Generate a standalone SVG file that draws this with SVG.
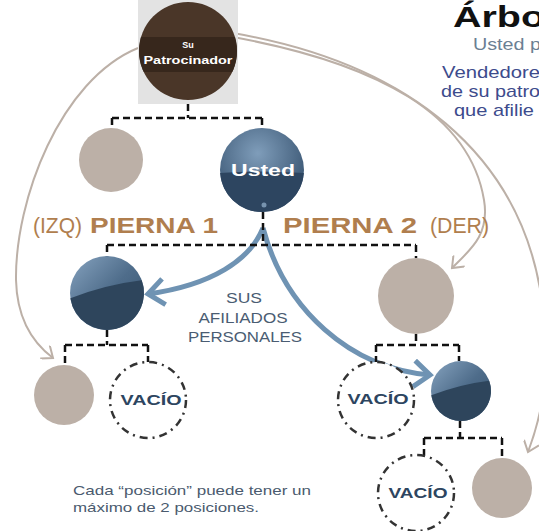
<svg xmlns="http://www.w3.org/2000/svg" width="539" height="531" viewBox="0 0 539 531">
<style>
.dash{fill:none;stroke:#111;stroke-width:2.5;stroke-dasharray:7,4}
.beige{fill:#bcb0a7}
.vacio{fill:#fff;stroke:#333;stroke-width:2.5;stroke-dasharray:8,5,2,5}
.vtxt{font-family:"Liberation Sans",Arial,sans-serif;font-weight:900;font-size:14px;fill:#2d4560;text-anchor:middle}
.carrow{fill:none;stroke:#bcb0a7;stroke-width:2}
.barrow{fill:none;stroke:#6f93b3;stroke-width:5}
.leg{font-family:"Liberation Sans",Arial,sans-serif;font-size:22px;fill:#b07e4e}
.blue{font-family:"Liberation Sans",Arial,sans-serif;font-size:15px;fill:#4a5c72;text-anchor:middle}
.hdr{font-family:"Liberation Sans",Arial,sans-serif;font-size:17px}
</style>
<defs>
<linearGradient id="gBall" x1="0" y1="0" x2="1" y2="1">
<stop offset="0" stop-color="#86a3bf"/>
<stop offset="0.5" stop-color="#4f6d8b"/>
<stop offset="1" stop-color="#34506b"/>
</linearGradient>
<radialGradient id="gUsted" cx="0.45" cy="0.3" r="0.6">
<stop offset="0" stop-color="#7f9dba"/>
<stop offset="1" stop-color="#3f5b78"/>
</radialGradient>
<g id="ball">
<circle r="30" fill="url(#gBall)"/>
<path d="M-29.7,4.2 Q0,-7 28.2,-10.3 A30,30 0 1 1 -29.7,4.2 Z" fill="#2e455c"/>
</g>
<clipPath id="cSp"><circle cx="188" cy="51" r="49"/></clipPath>
<marker id="mB" viewBox="0 0 16 16" refX="14" refY="8" markerWidth="16" markerHeight="16" markerUnits="userSpaceOnUse" orient="auto">
<path d="M4,0 L14,8 L4,16" fill="none" stroke="#bcb0a7" stroke-width="2"/>
</marker>
<marker id="mBl" viewBox="0 0 24 30" refX="20" refY="15" markerWidth="24" markerHeight="30" markerUnits="userSpaceOnUse" orient="auto">
<path d="M4,2 L20,15 L4,28" fill="none" stroke="#6f93b3" stroke-width="5"/>
</marker>
</defs>

<g id="title">
<text x="453" y="27" font-family="'Liberation Sans',Arial,sans-serif" font-weight="900" font-size="29" fill="#111" textLength="92" lengthAdjust="spacingAndGlyphs">Árbo</text>
<text class="hdr" x="473" y="50" fill="#6b7f93" textLength="68" lengthAdjust="spacingAndGlyphs">Usted p</text>
<text class="hdr" x="442" y="78" fill="#3d4b8c" textLength="98" lengthAdjust="spacingAndGlyphs">Vendedore</text>
<text class="hdr" x="441" y="97" fill="#3d4b8c" textLength="99" lengthAdjust="spacingAndGlyphs">de su patro</text>
<text class="hdr" x="454" y="116" fill="#3d4b8c" textLength="80" lengthAdjust="spacingAndGlyphs">que afilie</text>
</g>

<g id="curves">
<path class="carrow" d="M138,48 C60,80 15,200 16,280 C17,320 33,343 53,358" marker-end="url(#mB)"/>
<path class="carrow" d="M233,33 C400,62 530,150 544,320 C548,390 540,420 528,452" marker-end="url(#mB)"/>
<path class="carrow" d="M233,37 C380,64 470,115 484,200 C490,235 470,250 452,268" marker-end="url(#mB)"/>
</g>

<g id="sponsor">
<rect x="138" y="0" width="100" height="104" fill="#e3e3e3"/>
<circle cx="188" cy="51" r="49" fill="#4a3628"/>
<rect x="138" y="37" width="100" height="35" fill="#37271c" clip-path="url(#cSp)"/>
<text x="188" y="48" text-anchor="middle" font-family="'Liberation Sans',Arial,sans-serif" font-weight="bold" font-size="9" fill="#fff">Su</text>
<text x="188" y="64" text-anchor="middle" font-family="'Liberation Sans',Arial,sans-serif" font-weight="bold" font-size="11" fill="#fff" textLength="89" lengthAdjust="spacingAndGlyphs">Patrocinador</text>
</g>

<g id="blue-arrows">
<path class="barrow" d="M263,228 C250,260 212,285 148,294" marker-end="url(#mBl)"/>
<path class="barrow" d="M263,228 C285,310 350,368 430,375" marker-end="url(#mBl)"/>
</g>

<g id="connectors">
<path class="dash" d="M188,104 V118 M112,118 H262 M112,118 V128 M262,118 V128"/>
<path class="dash" d="M263,212 V245 M107,245 H416 M107,245 V257 M416,245 V258"/>
<path class="dash" d="M107,330 V345 M65,345 H148 M65,345 V365 M148,345 V362"/>
<path class="dash" d="M416,334 V345 M376,345 H459 M376,345 V362 M459,345 V361"/>
<path class="dash" d="M460,421 V438 M424,438 H502 M424,438 V455 M502,438 V458"/>
</g>

<g id="node-left-beige"><circle class="beige" cx="111" cy="160" r="32"/></g>

<g id="node-usted">
<circle cx="262" cy="170" r="42" fill="url(#gUsted)"/>
<path d="M220.1,173 Q262,170 303.9,173 A42,42 0 0 1 220.1,173 Z" fill="#2d4560"/>
<circle cx="264" cy="205" r="2.5" fill="#8aa6c2" opacity="0.8"/>
<text x="263" y="176" text-anchor="middle" font-family="'Liberation Sans',Arial,sans-serif" font-weight="900" font-size="17" fill="#fff" textLength="64" lengthAdjust="spacingAndGlyphs">Usted</text>
</g>

<g id="legs">
<text class="leg" x="33" y="233" textLength="49" lengthAdjust="spacingAndGlyphs">(IZQ)</text>
<text class="leg" x="90" y="233" font-weight="900" textLength="128" lengthAdjust="spacingAndGlyphs">PIERNA 1</text>
<text class="leg" x="283" y="233" font-weight="900" textLength="134" lengthAdjust="spacingAndGlyphs">PIERNA 2</text>
<text class="leg" x="430" y="233" textLength="59" lengthAdjust="spacingAndGlyphs">(DER)</text>
</g>

<g id="node-leg1"><use href="#ball" transform="translate(107,293) scale(1.233)"/></g>
<g id="node-leg2"><circle class="beige" cx="416" cy="296" r="38"/></g>

<g id="label-afiliados">
<text class="blue" x="244" y="303" textLength="36" lengthAdjust="spacingAndGlyphs">SUS</text>
<text class="blue" x="243" y="323" textLength="89" lengthAdjust="spacingAndGlyphs">AFILIADOS</text>
<text class="blue" x="245" y="342" textLength="114" lengthAdjust="spacingAndGlyphs">PERSONALES</text>
</g>

<g id="node-l-left"><circle class="beige" cx="64" cy="395" r="30"/></g>
<g id="node-l-vacio"><circle class="vacio" cx="148" cy="400" r="38"/><text class="vtxt" x="151" y="405" textLength="61" lengthAdjust="spacingAndGlyphs">VACÍO</text></g>
<g id="node-r-vacio"><circle class="vacio" cx="376" cy="400" r="38"/><text class="vtxt" x="378" y="404" textLength="61" lengthAdjust="spacingAndGlyphs">VACÍO</text></g>
<g id="node-r-blue"><use href="#ball" transform="translate(461,391)"/></g>
<g id="node-b-vacio"><circle class="vacio" cx="416" cy="493" r="38"/><text class="vtxt" x="418" y="498" textLength="59" lengthAdjust="spacingAndGlyphs">VACÍO</text></g>
<g id="node-b-beige"><circle class="beige" cx="502" cy="488" r="30"/></g>

<g id="note">
<text x="73" y="495" font-family="'Liberation Sans',Arial,sans-serif" font-size="13.5" fill="#4a5a6e" textLength="238" lengthAdjust="spacingAndGlyphs">Cada “posición” puede tener un</text>
<text x="73" y="512" font-family="'Liberation Sans',Arial,sans-serif" font-size="13.5" fill="#4a5a6e" textLength="186" lengthAdjust="spacingAndGlyphs">máximo de 2 posiciones.</text>
</g>
</svg>
